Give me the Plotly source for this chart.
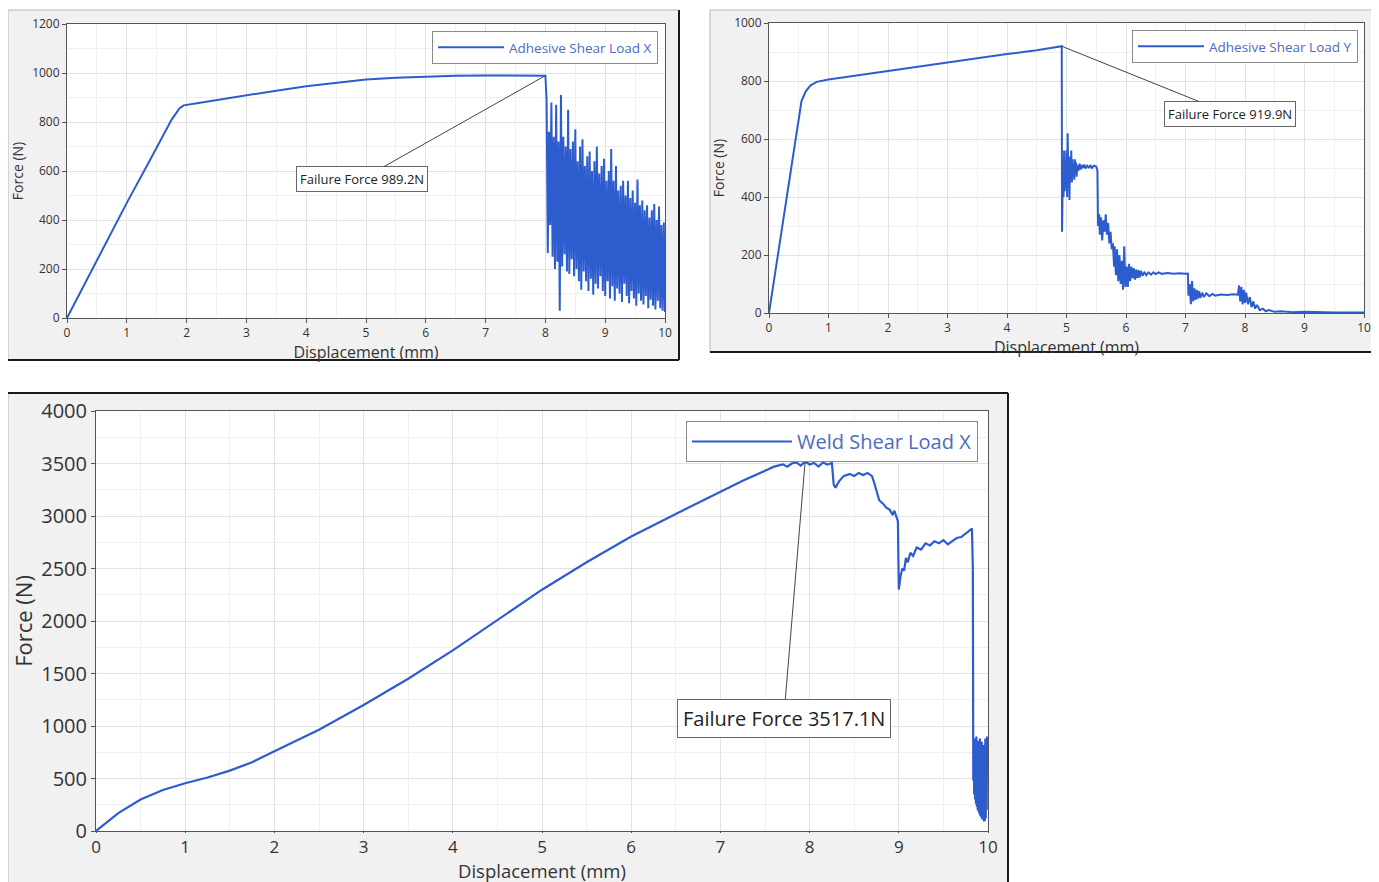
import plotly.graph_objects as go
import numpy as np

# page is 1379x882; the html body adds an 8px margin, so the figure is 8px smaller
OFF = 8
W, H = 1379 - OFF, 882 - OFF

# ---------------- Data ----------------
# Panel 1: Adhesive Shear Load X
adh_x_disp = [0.0, 0.3, 0.6, 1.0, 1.4, 1.75, 1.88, 1.95, 2.2, 2.5, 3.0, 3.5, 4.0, 4.5, 5.0, 5.5, 6.0, 6.5, 7.0, 7.5, 8.0]
adh_x_force = [0, 140, 285, 470, 650, 810, 855, 868, 878, 890, 910, 928, 946, 961, 973, 981, 986, 989, 990, 990, 989.2]
adh_x_noise_hi = [890, 760, 880, 740, 870, 720, 910, 740, 700, 850, 690, 720, 770, 640, 700, 730, 620, 660, 680, 600,
                  640, 700, 590, 620, 650, 560, 600, 690, 560, 620, 520, 540, 560, 500, 560, 490, 520, 470, 565, 460,
                  480, 440, 460, 410, 440, 465, 400, 455, 380, 390]
adh_x_noise_lo = [265, 380, 250, 200, 230, 30, 210, 260, 190, 180, 240, 170, 200, 150, 115, 190, 150, 110, 160, 95,
                  140, 120, 170, 110, 90, 150, 80, 130, 70, 120, 100, 65, 140, 90, 60, 110, 80, 50, 100, 70,
                  55, 90, 40, 75, 50, 35, 70, 40, 30, 25]

# Panel 2: Adhesive Shear Load Y
adh_y_disp = [0.0, 0.2, 0.4, 0.546, 0.62, 0.7, 0.8, 1.0, 1.5, 2.0, 2.5, 3.0, 3.5, 4.0, 4.5, 4.92,
              4.925, 4.94, 4.95, 4.96, 4.97, 4.98, 4.99, 5.00, 5.01, 5.02, 5.03, 5.04, 5.05, 5.06, 5.07, 5.08, 5.09,
              5.10, 5.11, 5.12, 5.13, 5.14, 5.15, 5.16, 5.17, 5.18, 5.20, 5.22, 5.24, 5.26, 5.28, 5.30, 5.32, 5.35,
              5.38, 5.40, 5.43, 5.46, 5.50, 5.52, 5.53, 5.55, 5.56, 5.58, 5.60, 5.62, 5.64, 5.66, 5.68, 5.70, 5.72,
              5.74, 5.76, 5.78, 5.80, 5.81, 5.83, 5.85, 5.87, 5.89, 5.91, 5.93, 5.95, 5.97, 5.99, 6.01, 6.03, 6.05,
              6.07, 6.09, 6.11, 6.13, 6.15, 6.17, 6.19, 6.21, 6.23, 6.25, 6.28, 6.31, 6.34, 6.38, 6.42, 6.46, 6.50,
              6.55, 6.60, 6.70, 6.80, 6.90, 7.00, 7.04, 7.05, 7.07, 7.09, 7.11, 7.13, 7.15, 7.17, 7.19, 7.21, 7.23,
              7.25, 7.28, 7.31, 7.35, 7.40, 7.45, 7.50, 7.60, 7.70, 7.80, 7.88, 7.90, 7.92, 7.94, 7.96, 7.98, 8.00,
              8.02, 8.05, 8.08, 8.11, 8.14, 8.17, 8.20, 8.25, 8.30, 8.35, 8.40, 8.50, 8.60, 8.80, 9.00, 9.50, 10.0]
adh_y_force = [0, 268, 536, 731, 765, 785, 797, 805, 820, 835, 849, 864, 878, 893, 906, 919.9,
               280, 520, 400, 560, 420, 480, 430, 560, 400, 620, 450, 520, 390, 540, 470, 560, 450,
               530, 480, 510, 460, 530, 490, 520, 470, 510, 490, 515, 495, 510, 500, 512, 498, 508,
               500, 510, 500, 508, 505, 490, 300, 340, 270, 330, 250, 320, 280, 340, 270, 310, 240,
               280, 220, 240, 160, 230, 130, 220, 110, 200, 100, 180, 80, 230, 90, 160, 90, 170,
               110, 160, 120, 155, 115, 150, 120, 148, 122, 145, 128, 142, 130, 140, 132, 140, 134,
               140, 135, 138, 135, 137, 135, 136, 60, 100, 30, 110, 40, 85, 45, 80, 50, 75,
               52, 70, 55, 68, 58, 66, 60, 64, 62, 65, 63, 95, 40, 90, 30, 80, 35,
               70, 30, 55, 20, 40, 15, 28, 10, 15, 6, 10, 4, 6, 3, 4, 2, 2]

# Panel 3: Weld Shear Load X
weld_disp = [0.0, 0.25, 0.5, 0.75, 1.0, 1.25, 1.5, 1.75, 2.0, 2.5, 3.0, 3.5, 4.0, 4.5, 5.0, 5.5, 6.0, 6.5,
             7.0, 7.25, 7.5, 7.6, 7.7, 7.75, 7.8, 7.85, 7.9, 7.95, 8.0, 8.05, 8.1, 8.15, 8.2, 8.25, 8.27, 8.29,
             8.33, 8.38, 8.45, 8.5, 8.55, 8.6, 8.65, 8.7, 8.73, 8.76, 8.78, 8.82, 8.86, 8.9, 8.93, 8.95, 8.97,
             8.99, 9.0, 9.02, 9.04, 9.06, 9.08, 9.1, 9.13, 9.16, 9.2, 9.25, 9.3, 9.35, 9.4, 9.45, 9.5, 9.55,
             9.6, 9.65, 9.7, 9.75, 9.8, 9.82, 9.83, 9.835,
             9.840, 9.845, 9.850, 9.855, 9.860, 9.865, 9.870, 9.875, 9.880, 9.885, 9.890, 9.895, 9.900, 9.905,
             9.910, 9.915, 9.920, 9.925, 9.930, 9.935, 9.940, 9.945, 9.950, 9.955, 9.960, 9.965, 9.970, 9.975,
             9.980, 9.985, 9.990, 9.995, 10.0]
weld_force = [0, 170, 300, 390, 455, 510, 575, 655, 760, 965, 1200, 1450, 1720, 2005, 2298, 2560, 2805, 3020,
              3233, 3335, 3430, 3470, 3492, 3470, 3500, 3510, 3480, 3517.1, 3490, 3505, 3470, 3510, 3490, 3505, 3300, 3270,
              3330, 3380, 3400, 3380, 3410, 3390, 3410, 3380, 3300, 3220, 3150, 3120, 3080, 3060, 3010, 3050, 3000,
              2950, 2300, 2430, 2500, 2480, 2600, 2560, 2650, 2620, 2700, 2680, 2740, 2720, 2760, 2740, 2770, 2730,
              2760, 2790, 2800, 2830, 2860, 2880, 2500, 480,
              850, 350, 880, 300, 820, 260, 900, 230, 780, 200, 860, 180, 720,
              160, 880, 140, 700, 130, 850, 110, 650, 120, 820, 90, 600, 100, 880,
              120, 700, 200, 900, 850, 850]

x_ticks = list(range(0, 11))

# ---------------- Build ----------------
LINE = "#2d5ccf"
LEG_TXT = "#4a6cc0"
FONT = "Open Sans"

# noisy section for panel 1, alternating highs and lows on the sampled displacement grid
n = len(adh_x_noise_hi)
nx = np.linspace(8.02, 10.0, 2 * n)
ny = []
for h, l in zip(adh_x_noise_hi, adh_x_noise_lo):
    ny += [h, l]
p1x = adh_x_disp + list(nx)
p1y = adh_x_force + ny

def px2x(p):
    return (p - OFF) / W

def px2y(p):
    return 1 - (p - OFF) / H

fig = go.Figure()
fig.add_trace(go.Scatter(x=p1x, y=p1y, mode="lines", name="Adhesive Shear Load X", showlegend=True,
                         line=dict(color=LINE, width=2), xaxis="x", yaxis="y", legend="legend"))
fig.add_trace(go.Scatter(x=adh_y_disp, y=adh_y_force, mode="lines", name="Adhesive Shear Load Y", showlegend=True,
                         line=dict(color=LINE, width=2), xaxis="x2", yaxis="y2", legend="legend2"))
fig.add_trace(go.Scatter(x=weld_disp, y=weld_force, mode="lines", name="Weld Shear Load X", showlegend=True,
                         line=dict(color=LINE, width=2.2), xaxis="x3", yaxis="y3", legend="legend3"))

panels = {
    1: dict(plot=(67, 665, 24, 318), frame=(8, 679, 10, 360)),
    2: dict(plot=(769, 1364, 23, 313), frame=(710, 1377, 10, 352)),
    3: dict(plot=(96, 988, 411, 831), frame=(8, 1008, 393, 886)),
}

shapes = []
for k, p in panels.items():
    l, r, t, b = p["frame"]
    shapes.append(dict(type="rect", xref="paper", yref="paper", x0=px2x(l), x1=px2x(r), y0=px2y(b), y1=px2y(t),
                       fillcolor="#f1f1f1", line=dict(color="#b5b5b5", width=1), layer="below"))
    shapes.append(dict(type="line", xref="paper", yref="paper", x0=px2x(l), x1=px2x(r), y0=px2y(b), y1=px2y(b),
                       line=dict(color="#1a1a1a", width=2), layer="below"))
    shapes.append(dict(type="line", xref="paper", yref="paper", x0=px2x(r), x1=px2x(r), y0=px2y(b), y1=px2y(t),
                       line=dict(color="#1a1a1a", width=2), layer="below"))
    pl, pr, pt, pb = p["plot"]
    shapes.append(dict(type="rect", xref="paper", yref="paper", x0=px2x(pl), x1=px2x(pr), y0=px2y(pb), y1=px2y(pt),
                       fillcolor="white", line=dict(width=0), layer="below"))
shapes.append(dict(type="line", xref="paper", yref="paper", x0=px2x(8), x1=px2x(1008), y0=px2y(393), y1=px2y(393),
                   line=dict(color="#1a1a1a", width=2), layer="below"))

def axis_common(fs, tl):
    return dict(showline=True, linecolor="#555", linewidth=1, mirror=True, ticks="outside", ticklen=tl,
                tickcolor="#555", gridcolor="#e2e2e2", gridwidth=1, zeroline=False, automargin=False,
                tickfont=dict(family=FONT, size=fs, color="#333"), title_font=dict(family=FONT, color="#333"))

layout = dict(width=W, height=H, autosize=False, margin=dict(l=0, r=0, t=0, b=0, pad=0, autoexpand=False),
              paper_bgcolor="white", plot_bgcolor="rgba(0,0,0,0)", font=dict(family=FONT), shapes=shapes,
              showlegend=True)

# ymax, dtick, minor dtick, y tick font, x tick font, x-title font, y-title font, y-title standoff, ticklen x
ycfg = {1: (1200, 200, 100, 12, 12, 16, 14, 5, 4), 2: (1000, 200, 100, 12, 12, 16, 14, 6, 4),
        3: (4000, 500, 250, 20, 17, 20, 22, 2, 1)}
for k, p in panels.items():
    pl, pr, pt, pb = p["plot"]
    ymax, ydt, ymin_dt, yfs, xfs, xtfs, ytfs, ysd, xtl = ycfg[k]
    sfx = "" if k == 1 else str(k)
    xa = axis_common(xfs, xtl)
    xa.update(domain=[px2x(pl), px2x(pr)], range=[0, 10], tickvals=x_ticks, anchor="y" + sfx,
              minor=dict(dtick=0.5, showgrid=True, gridcolor="#f0f0f0", ticks=""))
    if k < 3:
        xa["title"] = dict(text="Displacement (mm)", font=dict(size=xtfs), standoff=0)
    ya = axis_common(yfs, 4)
    ya.update(domain=[px2y(pb), px2y(pt)], range=[0, ymax], dtick=ydt, anchor="x" + sfx,
              minor=dict(dtick=ymin_dt, showgrid=True, gridcolor="#f0f0f0", ticks=""),
              title=dict(text="Force (N)", font=dict(size=ytfs), standoff=ysd))
    layout["xaxis" + sfx] = xa
    layout["yaxis" + sfx] = ya

leg_cfg = {1: (658, 31, 13.5, 66), 2: (1358, 30, 13.5, 66), 3: (978, 421, 20, 100)}
for k, (rx, ty, fs, iw) in leg_cfg.items():
    name = "legend" if k == 1 else "legend" + str(k)
    layout[name] = dict(x=px2x(rx), y=px2y(ty), xanchor="right", yanchor="top", bgcolor="white",
                        bordercolor="#8a8a8a", borderwidth=1, itemwidth=iw, visible=True,
                        font=dict(family=FONT, size=fs, color=LEG_TXT))

fig.update_layout(**layout)

ann_common = dict(showarrow=True, arrowhead=0, arrowwidth=1, arrowcolor="#444", bgcolor="white",
                  bordercolor="#666", borderwidth=1)
fig.add_annotation(x=8.0, y=989.2, ax=4.93, ay=567, xref="x", yref="y", axref="x", ayref="y", borderpad=3,
                   text="Failure Force 989.2N", font=dict(family=FONT, size=13, color="#222"), **ann_common)
fig.add_annotation(x=4.92, y=919.9, ax=7.75, ay=686, xref="x2", yref="y2", axref="x2", ayref="y2", borderpad=3,
                   text="Failure Force 919.9N", font=dict(family=FONT, size=13, color="#222"), **ann_common)
fig.add_annotation(x=7.95, y=3517.1, ax=7.71, ay=1074, xref="x3", yref="y3", axref="x3", ayref="y3", borderpad=5,
                   text="Failure Force 3517.1N", font=dict(family=FONT, size=20, color="#222"), **ann_common)

# x-axis title of the bottom panel, kept inside the page bottom
fig.add_annotation(x=(px2x(96) + px2x(988)) / 2, y=0, xref="paper", yref="paper", xanchor="center",
                   yanchor="bottom", showarrow=False, text="Displacement (mm)", yshift=-2, borderpad=0,
                   font=dict(family=FONT, size=18.5, color="#333"))

fig.write_html("out.html")
